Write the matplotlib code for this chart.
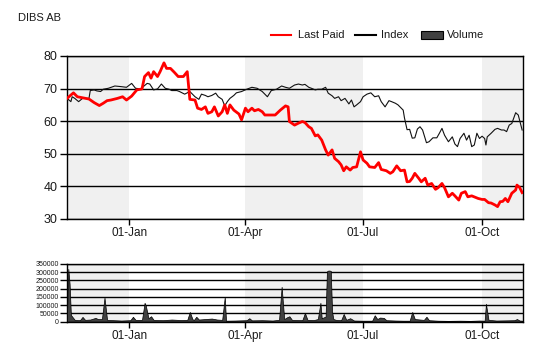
import matplotlib
matplotlib.use('Agg')
import matplotlib.pyplot as plt
import matplotlib.dates as mdates
from matplotlib.lines import Line2D
from matplotlib.patches import Rectangle
import pandas as pd

plt.rcParams['font.family'] = ['Liberation Sans', 'DejaVu Sans']

title = "DIBS AB"
series_names = ["Last Paid", "Index", "Volume"]

price_dates = [
    "2012-11-14", "2012-11-19", "2012-11-22", "2012-11-26", "2012-12-01", "2012-12-05",
    "2012-12-09", "2012-12-12", "2012-12-15", "2012-12-18", "2012-12-23", "2012-12-27",
    "2012-12-30", "2013-01-03", "2013-01-07", "2013-01-11", "2013-01-13", "2013-01-16",
    "2013-01-18", "2013-01-20", "2013-01-23", "2013-01-25", "2013-01-28", "2013-01-30",
    "2013-02-02", "2013-02-05", "2013-02-08", "2013-02-12", "2013-02-15", "2013-02-17",
    "2013-02-21", "2013-02-23", "2013-02-26", "2013-03-01", "2013-03-03", "2013-03-06",
    "2013-03-08", "2013-03-11", "2013-03-14", "2013-03-16", "2013-03-18", "2013-03-20",
    "2013-03-23", "2013-03-27", "2013-03-29", "2013-04-01", "2013-04-03", "2013-04-06",
    "2013-04-08", "2013-04-11", "2013-04-14", "2013-04-16", "2013-04-20", "2013-04-24",
    "2013-04-28", "2013-05-02", "2013-05-04", "2013-05-05", "2013-05-09", "2013-05-12",
    "2013-05-15", "2013-05-17", "2013-05-20", "2013-05-22", "2013-05-25", "2013-05-27",
    "2013-05-30", "2013-06-02", "2013-06-04", "2013-06-07", "2013-06-09", "2013-06-12",
    "2013-06-14", "2013-06-16", "2013-06-18", "2013-06-21", "2013-06-23", "2013-06-26",
    "2013-06-29", "2013-07-01", "2013-07-04", "2013-07-06", "2013-07-10", "2013-07-13",
    "2013-07-15", "2013-07-19", "2013-07-22", "2013-07-24", "2013-07-27", "2013-07-30",
    "2013-08-02", "2013-08-04", "2013-08-06", "2013-08-08", "2013-08-10", "2013-08-13",
    "2013-08-15", "2013-08-18", "2013-08-20", "2013-08-23", "2013-08-26", "2013-08-28",
    "2013-08-31", "2013-09-02", "2013-09-05", "2013-09-08", "2013-09-10", "2013-09-13",
    "2013-09-15", "2013-09-18", "2013-09-20", "2013-09-23", "2013-09-26", "2013-09-28",
    "2013-10-01", "2013-10-03", "2013-10-06", "2013-10-08", "2013-10-11", "2013-10-13",
    "2013-10-15", "2013-10-17", "2013-10-19", "2013-10-21", "2013-10-24", "2013-10-27",
    "2013-10-28", "2013-10-30", "2013-11-01",
]
last_paid = [
    67.0, 68.7, 67.5, 67.2, 66.8, 65.7,
    64.8, 65.5, 66.3, 66.5, 67.0, 67.5,
    66.5, 67.7, 69.6, 69.9, 73.7, 74.9,
    73.2, 75.2, 73.7, 75.2, 77.9, 76.2,
    76.2, 75.0, 73.7, 73.7, 75.2, 66.7,
    66.5, 64.0, 63.6, 64.4, 62.4, 62.9,
    64.4, 61.6, 62.9, 65.0, 62.4, 65.0,
    63.4, 62.2, 60.4, 64.0, 62.9, 64.0,
    63.2, 63.6, 62.9, 61.9, 61.9, 61.9,
    63.4, 64.7, 64.4, 59.9, 58.8, 59.4,
    59.9, 59.6, 58.3, 57.8, 55.5, 55.8,
    54.2, 51.2, 49.6, 51.2, 48.6, 47.6,
    46.6, 44.8, 46.0, 45.0, 45.8, 46.0,
    50.6, 48.1, 47.1, 46.0, 45.8, 47.3,
    45.2, 44.8, 44.0, 44.5, 46.3, 44.8,
    45.0, 41.4, 41.5, 42.5, 44.0, 42.5,
    41.4, 42.5, 40.4, 40.9, 39.1, 39.6,
    40.9, 39.6, 36.8, 37.9, 37.1, 35.8,
    37.9, 38.4, 36.8, 37.1, 36.6, 36.3,
    36.0, 36.0, 35.0, 34.9, 34.3, 33.8,
    35.3, 35.4, 36.3, 35.3, 37.9, 38.9,
    40.4, 39.7, 38.1,
]

index_dates = [
    "2012-11-14", "2012-11-17", "2012-11-18", "2012-11-20", "2012-11-23", "2012-11-26",
    "2012-11-28", "2012-12-01", "2012-12-02", "2012-12-05", "2012-12-07", "2012-12-10",
    "2012-12-12", "2012-12-16", "2012-12-21", "2012-12-26", "2012-12-30", "2013-01-03",
    "2013-01-06", "2013-01-10", "2013-01-12", "2013-01-15", "2013-01-17", "2013-01-20",
    "2013-01-23", "2013-01-26", "2013-01-29", "2013-02-01", "2013-02-03", "2013-02-07",
    "2013-02-09", "2013-02-11", "2013-02-13", "2013-02-17", "2013-02-21", "2013-02-24",
    "2013-02-26", "2013-03-01", "2013-03-03", "2013-03-06", "2013-03-09", "2013-03-11",
    "2013-03-14", "2013-03-16", "2013-03-18", "2013-03-20", "2013-03-23", "2013-03-25",
    "2013-03-29", "2013-04-02", "2013-04-06", "2013-04-10", "2013-04-14", "2013-04-16",
    "2013-04-18", "2013-04-21", "2013-04-25", "2013-04-29", "2013-05-02", "2013-05-05",
    "2013-05-09", "2013-05-12", "2013-05-15", "2013-05-17", "2013-05-20", "2013-05-22",
    "2013-05-25", "2013-05-27", "2013-05-30", "2013-06-02", "2013-06-04", "2013-06-07",
    "2013-06-09", "2013-06-12", "2013-06-14", "2013-06-17", "2013-06-20", "2013-06-22",
    "2013-06-24", "2013-06-26", "2013-06-29", "2013-07-01", "2013-07-04", "2013-07-07",
    "2013-07-10", "2013-07-13", "2013-07-15", "2013-07-18", "2013-07-21", "2013-07-23",
    "2013-07-26", "2013-07-28", "2013-08-01", "2013-08-02", "2013-08-04", "2013-08-06",
    "2013-08-08", "2013-08-10", "2013-08-12", "2013-08-14", "2013-08-16", "2013-08-19",
    "2013-08-21", "2013-08-24", "2013-08-27", "2013-08-29", "2013-08-31", "2013-09-02",
    "2013-09-05", "2013-09-08", "2013-09-10", "2013-09-12", "2013-09-14", "2013-09-17",
    "2013-09-19", "2013-09-21", "2013-09-23", "2013-09-25", "2013-09-27", "2013-09-29",
    "2013-10-01", "2013-10-03", "2013-10-04", "2013-10-05", "2013-10-08", "2013-10-11",
    "2013-10-13", "2013-10-16", "2013-10-18", "2013-10-20", "2013-10-22", "2013-10-24",
    "2013-10-27", "2013-10-29", "2013-10-30", "2013-11-01",
]
index_values = [
    67.0, 66.0, 67.5, 67.0, 66.0, 67.0,
    67.0, 67.0, 69.4, 69.6, 69.3, 69.1,
    69.8, 70.1, 70.8, 70.6, 70.4, 71.6,
    70.1, 69.9, 70.6, 71.6, 71.4, 69.6,
    69.9, 71.4, 70.1, 69.8, 69.4, 69.4,
    69.1, 68.7, 68.3, 69.1, 67.5, 66.7,
    68.3, 67.9, 67.5, 67.9, 68.6, 67.5,
    66.7, 64.7, 66.0, 67.0, 67.9, 68.7,
    69.1, 69.8, 70.4, 70.1, 69.1, 68.3,
    67.5, 69.4, 69.8, 70.8, 70.4, 70.1,
    71.1, 71.4, 71.1, 71.3, 70.4, 70.1,
    69.6, 69.8, 69.8, 70.4, 68.6, 67.8,
    67.0, 67.5, 66.3, 67.0, 65.3, 66.5,
    64.4, 65.0, 66.0, 67.5, 68.3, 68.7,
    67.5, 67.8, 66.0, 64.4, 66.3, 66.0,
    65.5, 65.0, 63.4, 61.0, 57.4, 57.5,
    54.8, 54.9, 57.6, 58.3, 57.3, 53.4,
    53.7, 54.9, 54.9, 56.3, 57.8, 55.7,
    53.7, 55.2, 53.0, 52.2, 54.7, 56.3,
    54.2, 55.7, 52.2, 52.7, 56.3, 54.7,
    55.4, 54.7, 52.7, 55.2, 56.3, 57.5,
    57.8, 57.3, 57.3, 56.8, 58.8, 59.3,
    62.6, 61.9, 60.4, 57.3,
]

volume_dates = [
    "2012-11-14", "2012-11-15", "2012-11-16", "2012-11-17", "2012-11-18", "2012-11-20",
    "2012-11-24", "2012-11-26", "2012-11-28", "2012-12-02", "2012-12-06", "2012-12-08",
    "2012-12-11", "2012-12-13", "2012-12-15", "2012-12-20", "2012-12-26", "2013-01-02",
    "2013-01-04", "2013-01-06", "2013-01-11", "2013-01-13", "2013-01-14", "2013-01-16",
    "2013-01-18", "2013-01-20", "2013-01-27", "2013-02-03", "2013-02-10", "2013-02-15",
    "2013-02-17", "2013-02-19", "2013-02-20", "2013-02-22", "2013-02-24", "2013-03-01",
    "2013-03-06", "2013-03-10", "2013-03-14", "2013-03-16", "2013-03-17", "2013-03-24",
    "2013-04-02", "2013-04-04", "2013-04-06", "2013-04-14", "2013-04-22", "2013-04-27",
    "2013-04-29", "2013-05-01", "2013-05-03", "2013-05-05", "2013-05-07", "2013-05-11",
    "2013-05-15", "2013-05-17", "2013-05-19", "2013-05-24", "2013-05-27", "2013-05-29",
    "2013-05-30", "2013-06-02", "2013-06-03", "2013-06-04", "2013-06-05", "2013-06-06",
    "2013-06-07", "2013-06-08", "2013-06-10", "2013-06-14", "2013-06-16", "2013-06-18",
    "2013-06-21", "2013-06-24", "2013-06-30", "2013-07-08", "2013-07-10", "2013-07-12",
    "2013-07-14", "2013-07-17", "2013-07-19", "2013-07-26", "2013-08-01", "2013-08-06",
    "2013-08-08", "2013-08-10", "2013-08-14", "2013-08-17", "2013-08-19", "2013-08-21",
    "2013-08-28", "2013-09-05", "2013-09-14", "2013-09-22", "2013-09-29", "2013-10-03",
    "2013-10-04", "2013-10-06", "2013-10-12", "2013-10-20", "2013-10-26", "2013-10-28",
    "2013-10-30", "2013-11-01",
]
volume_values = [
    30000, 320000, 230000, 40000, 30000, 10000,
    8000, 28000, 10000, 12000, 22000, 15000,
    15000, 145000, 10000, 8000, 6000, 8000,
    29000, 10000, 10000, 114000, 95000, 20000,
    32000, 10000, 8000, 12000, 9000, 10000,
    58000, 15000, 8000, 29000, 12000, 15000,
    18000, 12000, 10000, 149000, 5000, 6000,
    8000, 20000, 7000, 8000, 6000, 10000,
    211000, 15000, 25000, 32000, 10000, 9000,
    8000, 52000, 10000, 9000, 15000, 114000,
    20000, 30000, 305000, 310000, 310000, 308000,
    60000, 15000, 10000, 8000, 46000, 10000,
    20000, 6000, 5000, 5000, 38000, 15000,
    24000, 22000, 8000, 6000, 5000, 5000,
    58000, 15000, 12000, 10000, 29000, 8000,
    5000, 4000, 5000, 4000, 6000, 5000,
    108000, 10000, 6000, 7000, 8000, 15000,
    6000, 5000,
]

x_start = "2012-11-14"
x_end = "2013-11-01 16:00"
quarter_starts = ["2013-01-01", "2013-04-01", "2013-07-01", "2013-10-01"]
quarter_labels = ["01-Jan", "01-Apr", "01-Jul", "01-Oct"]
price_ticks = [30, 40, 50, 60, 70, 80]
volume_ticks = [0, 50000, 100000, 150000, 200000, 250000, 300000, 350000]

# ---------------------------------------------------------------
pdates = pd.to_datetime(price_dates)
idates = pd.to_datetime(index_dates)
vdates = pd.to_datetime(volume_dates)
qs = pd.to_datetime(quarter_starts)
xs, xe = pd.Timestamp(x_start), pd.Timestamp(x_end)

fig = plt.figure(figsize=(5.4, 3.6), dpi=100)
W, H = 540, 360

def frac_box(l, t, r, b):
    return [l / W, 1 - b / H, (r - l) / W, (b - t) / H]

ax = fig.add_axes(frac_box(67, 56, 523, 219))
axv = fig.add_axes(frac_box(67, 264, 523, 321.5))

text_color = '#1a1a1a'
shade = '#f0f0f0'
spans = [(xs, qs[0]), (qs[1], qs[2]), (qs[3], xe)]

for a in (ax, axv):
    for s0, s1 in spans:
        a.axvspan(s0, s1, color=shade, lw=0, zorder=0)
    a.set_xlim(xs, xe)
    a.set_xticks(qs)
    a.set_xticklabels(quarter_labels)
    a.yaxis.grid(True, color='black', lw=1.0, zorder=0.5)
    a.set_axisbelow(True)
    for sp in a.spines.values():
        sp.set_color('black')
        sp.set_linewidth(1.0)
    a.tick_params(axis='x', length=4, width=1, color='black', pad=2,
                  labelsize=8.5, labelcolor=text_color)

ax.set_ylim(30, 80)
ax.set_yticks(price_ticks)
ax.tick_params(axis='y', length=5, width=1, color='black', pad=2,
               labelsize=9, labelcolor=text_color)

ax.plot(idates, index_values, color='#111111', lw=0.8, zorder=3)
ax.plot(pdates, last_paid, color='#ff0000', lw=2.0, zorder=4)

axv.set_ylim(0, 350000)
axv.set_yticks(volume_ticks)
axv.set_yticklabels([str(v) for v in volume_ticks])
axv.tick_params(axis='y', length=5, width=1, color='black', pad=1,
                labelsize=5, labelcolor=text_color)
axv.fill_between(vdates, volume_values, 0, facecolor='#404040',
                 edgecolor='black', lw=0.5, zorder=3)

# title
fig.text(18 / W, 1 - 18 / H, title, fontsize=8, color=text_color,
         ha='left', va='center')

# legend
ly = 1 - 35 / H
fig.add_artist(Line2D([271 / W, 291 / W], [ly, ly], color='#ff0000', lw=1.5))
fig.text(298 / W, ly, series_names[0], fontsize=8, color=text_color, ha='left', va='center')
fig.add_artist(Line2D([355 / W, 376 / W], [ly, ly], color='black', lw=1.5))
fig.text(381 / W, ly, series_names[1], fontsize=8, color=text_color, ha='left', va='center')
fig.add_artist(Rectangle((421 / W, 1 - 39 / H), 22 / W, 8 / H, facecolor='#404040',
                         edgecolor='black', lw=0.8, transform=fig.transFigure))
fig.text(447 / W, ly, series_names[2], fontsize=8, color=text_color, ha='left', va='center')

fig.savefig('out.png', dpi=100)
